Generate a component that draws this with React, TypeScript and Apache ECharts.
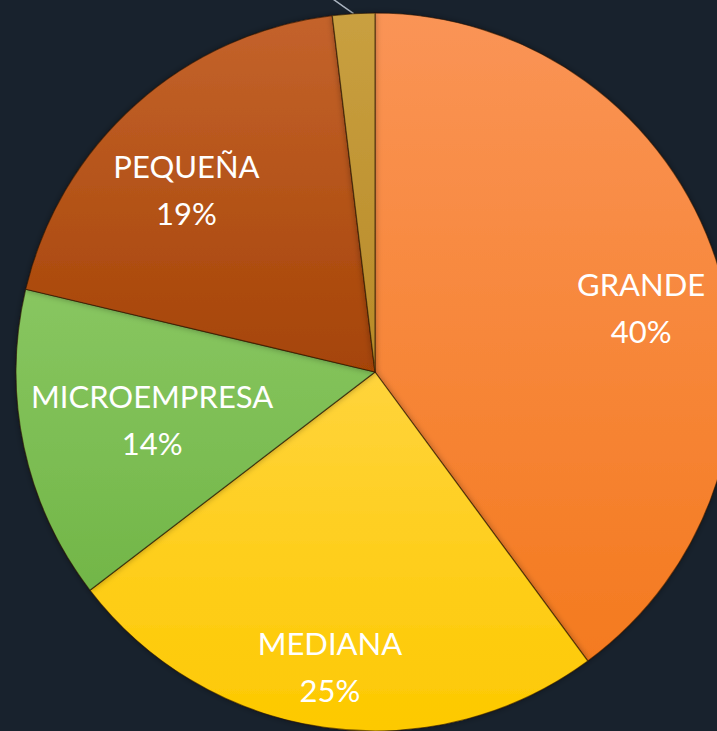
import React, { useEffect, useRef } from "react";
import * as echarts from "echarts";

const categories = ["GRANDE", "MEDIANA", "MICROEMPRESA", "PEQUEÑA", "OTROS"];
const values = [39.9, 24.7, 14.1, 19.4, 1.9];
const topColors = ["#fa9456", "#ffd43c", "#88c660", "#c4632c", "#c9a040"];
const bottomColors = ["#f47a1f", "#fdc900", "#72b648", "#a54406", "#b88a28"];
// polar placement of each inside label: angle (deg, clockwise from top) and fraction of radius
const labelAngle = [76.3, 188.7, 257.9, 314, 0];
const labelRadial = [0.763, 0.83, 0.635, 0.73, 0];

const W = 717;
const H = 731;
const CX = 375;
const CY = 372;
const R = 359;

export default function App() {
  const ref = useRef<HTMLDivElement>(null);
  useEffect(() => {
    if (!ref.current) return;
    const chart = echarts.init(ref.current, null, { renderer: "svg", width: W, height: H });
    const data = categories.map((name, i) => ({
      name,
      value: values[i],
      itemStyle: {
        color: new echarts.graphic.LinearGradient(0, 0, 0, 1, [
          { offset: 0, color: topColors[i] },
          { offset: 1, color: bottomColors[i] },
        ]),
      },
      label:
        i === 4
          ? {
              show: true,
              position: "outside",
              formatter: " ",
            }
          : undefined,
      labelLine:
        i === 4
          ? { show: true, length: 10, length2: 10, lineStyle: { color: "#a9b3bf", width: 1.5 } }
          : undefined,
    }));
    chart.setOption({
      animation: false,
      backgroundColor: "#18222d",
      series: [
        {
          type: "pie",
          center: [CX, CY],
          radius: [0, R],
          startAngle: 90,
          clockwise: true,
          avoidLabelOverlap: false,
          data,
          itemStyle: {
            borderColor: "rgba(40,20,0,0.6)",
            borderWidth: 1.2,
            shadowColor: "rgba(0,0,0,0.35)",
            shadowBlur: 6,
          },
          label: {
            show: true,
            position: "inside",
            color: "#ffffff",
            fontFamily: "Lato, 'Open Sans', sans-serif",
            fontSize: 31,
            lineHeight: 47,
            formatter: (p: any) => `${p.name}\n${Math.round(p.percent)}%`,
          },
          labelLine: { show: false },
          labelLayout: (p: any) => {
            const i = p.dataIndex;
            const lr = p.labelRect;
            if (!labelRadial[i]) {
              const pts = p.labelLinePoints;
              if (!pts || !pts[0]) return {};
              const s = pts[0];
              return {
                dx: -30,
                dy: -30,
                labelLinePoints: [
                  [s[0], s[1]],
                  [s[0] - 10, s[1] - 7],
                  [s[0] - 24, s[1] - 17],
                ],
              };
            }
            const a = (labelAngle[i] * Math.PI) / 180;
            const tx = CX + labelRadial[i] * R * Math.sin(a);
            const ty = CY - labelRadial[i] * R * Math.cos(a);
            const lx = lr.x + lr.width / 2;
            const ly = lr.y + lr.height / 2;
            return { dx: tx - lx, dy: ty - ly };
          },
        },
      ],
    });
    return () => chart.dispose();
  }, []);
  return (
    <div
      ref={ref}
      style={{ position: "absolute", left: 0, top: 0, width: W, height: H, overflow: "hidden" }}
    />
  );
}
